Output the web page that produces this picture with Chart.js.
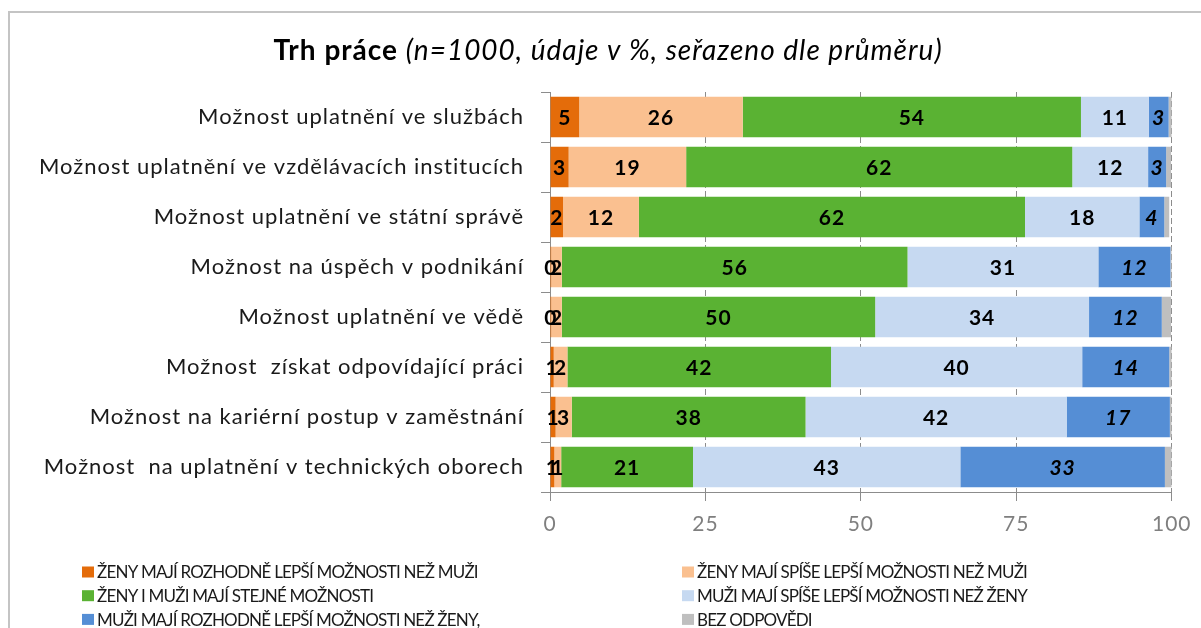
<!DOCTYPE html>
<html>
<head>
<meta charset="utf-8">
<script src="https://cdn.jsdelivr.net/npm/chart.js@4.4.1/dist/chart.umd.min.js"></script>
<style>
    body { margin: 0; background: #ffffff; }
    canvas { display: block; }
</style>
</head>
<body>
<canvas id="grafTrhPrace" width="1201" height="628"></canvas>
<script>
// kategorie (shora dolů)
var kategorie = [
    "Možnost uplatnění ve službách",
    "Možnost uplatnění ve vzdělávacích institucích",
    "Možnost uplatnění ve státní správě",
    "Možnost na úspěch v podnikání",
    "Možnost uplatnění ve vědě",
    "Možnost  získat odpovídající práci",
    "Možnost na kariérní postup v zaměstnání",
    "Možnost  na uplatnění v technických oborech"
]

var nazvyRad = [
    "ŽENY MAJÍ ROZHODNĚ LEPŠÍ MOŽNOSTI NEŽ MUŽI",
    "ŽENY MAJÍ SPÍŠE LEPŠÍ MOŽNOSTI NEŽ MUŽI",
    "ŽENY I MUŽI MAJÍ STEJNÉ MOŽNOSTI",
    "MUŽI MAJÍ SPÍŠE LEPŠÍ MOŽNOSTI NEŽ ŽENY",
    "MUŽI MAJÍ ROZHODNĚ LEPŠÍ MOŽNOSTI NEŽ ŽENY,",
    "BEZ ODPOVĚDI"
]

var zenyRozhodne = [4.7, 3.0, 2.1, 0.2, 0.2, 0.6, 0.9, 0.7]
var zenySpise = [26.3, 18.9, 12.2, 1.7, 1.7, 2.2, 2.6, 1.1]
var stejne = [54.4, 62.1, 62.1, 55.6, 50.4, 42.4, 37.6, 21.2]
var muziSpise = [10.9, 12.2, 18.4, 30.7, 34.4, 40.4, 42.0, 43.0]
var muziRozhodne = [3.2, 2.9, 4.0, 11.6, 11.7, 14.0, 16.6, 32.9]
var bezOdpovedi = [0.5, 0.8, 0.8, 0.2, 1.5, 0.4, 0.3, 1.1]

var osaX = [0, 25, 50, 75, 100]

var barvy = ['#E46C0A', '#FAC090', '#5AB233', '#C6D9F1', '#558ED5', '#BFBFBF']

var pismo = 'Lato, "Open Sans", sans-serif'
var sedaOsa = '#8C8C8C'

// rámeček, nadpis a legenda
const kresleni = {
    id: 'kresleni',
    beforeDraw(chart) {
        const ctx = chart.ctx
        ctx.letterSpacing = '1px' // popisky os jsou v originale sirsi
        ctx.save()
        ctx.strokeStyle = '#C4C4C4'
        ctx.lineWidth = 2
        ctx.strokeRect(9, 12, 1400, 800)
        ctx.restore()
    },
    afterDraw(chart) {
        const ctx = chart.ctx
        ctx.save()

        // nadpis
        var cast1 = 'Trh práce '
        var cast2 = '(n=1000, údaje v %, seřazeno dle průměru)'
        ctx.letterSpacing = '1px'
        ctx.textBaseline = 'middle'
        ctx.fillStyle = '#000000'
        ctx.font = 'bold 28px ' + pismo
        var s1 = ctx.measureText(cast1).width
        ctx.font = 'italic 28px ' + pismo
        var s2 = ctx.measureText(cast2).width
        var start = 608 - (s1 + s2) / 2
        ctx.font = 'bold 28px ' + pismo
        ctx.fillText(cast1, start, 51)
        ctx.font = 'italic 28px ' + pismo
        ctx.fillText(cast2, start + s1, 51)

        // legenda ve dvou sloupcich
        ctx.letterSpacing = '-0.8px'
        ctx.font = '17px ' + pismo
        for (var i = 0; i < nazvyRad.length; i++) {
            var sloupec = i % 2
            var radek = Math.floor(i / 2)
            var lx = sloupec == 0 ? 82 : 682
            var ly = 572 + radek * 23.7
            ctx.fillStyle = barvy[i]
            ctx.fillRect(lx, ly - 5.5, 12, 11)
            ctx.fillStyle = '#1A1A1A'
            ctx.fillText(nazvyRad[i], lx + 15, ly + 1)
        }
        ctx.restore()
    }
}

// popisky hodnot uprostred useku
const popisky = {
    id: 'popisky',
    afterDatasetsDraw(chart) {
        const ctx = chart.ctx
        ctx.save()
        ctx.letterSpacing = '1px'
        ctx.textAlign = 'center'
        ctx.textBaseline = 'middle'
        ctx.fillStyle = '#000000'
        for (var d = 0; d < 5; d++) {
            var meta = chart.getDatasetMeta(d)
            ctx.font = (d == 4 ? 'italic bold ' : 'bold ') + '21px ' + pismo
            for (var j = 0; j < meta.data.length; j++) {
                var el = meta.data[j]
                var hodnota = chart.data.datasets[d].data[j]
                var stred = el.getCenterPoint()
                ctx.fillText(String(Math.round(hodnota)), stred.x, stred.y + 1)
            }
        }
        ctx.restore()
    }
}

const dataGraf = {
    labels: kategorie,
    datasets: [
        { label: nazvyRad[0], data: zenyRozhodne, backgroundColor: barvy[0] },
        { label: nazvyRad[1], data: zenySpise, backgroundColor: barvy[1] },
        { label: nazvyRad[2], data: stejne, backgroundColor: barvy[2] },
        { label: nazvyRad[3], data: muziSpise, backgroundColor: barvy[3] },
        { label: nazvyRad[4], data: muziRozhodne, backgroundColor: barvy[4] },
        { label: nazvyRad[5], data: bezOdpovedi, backgroundColor: barvy[5] }
    ]
}

const configGraf = {
    type: 'bar',
    data: dataGraf,
    options: {
        indexAxis: 'y',
        responsive: false,
        animation: false,
        devicePixelRatio: 1,
        categoryPercentage: 0.81,
        barPercentage: 1,
        layout: {
            padding: { top: 92, right: 28, bottom: 96, left: 0 }
        },
        plugins: {
            legend: { display: false },
            title: { display: false },
            tooltip: { enabled: false }
        },
        scales: {
            x: {
                stacked: true,
                min: 0,
                max: 100,
                afterBuildTicks: function (scale) {
                    scale.ticks = osaX.map(function (v) { return { value: v } })
                },
                afterFit: function (scale) { scale.height = 40 },
                ticks: {
                    color: '#7F7F7F',
                    font: { family: pismo, size: 21 },
                    padding: 11
                },
                grid: {
                    color: sedaOsa,
                    tickColor: sedaOsa,
                    tickLength: 9
                },
                border: {
                    color: sedaOsa,
                    dash: [6, 3]
                }
            },
            y: {
                stacked: true,
                afterFit: function (scale) { scale.width = 550 },
                ticks: {
                    color: '#1A1A1A',
                    font: { family: pismo, size: 22 },
                    padding: 17
                },
                grid: {
                    drawOnChartArea: false,
                    color: sedaOsa,
                    tickLength: 9
                },
                border: {
                    color: sedaOsa
                }
            }
        }
    },
    plugins: [kresleni, popisky]
}

const grafTrh = new Chart(
    document.getElementById('grafTrhPrace'),
    configGraf
)
</script>
</body>
</html>
